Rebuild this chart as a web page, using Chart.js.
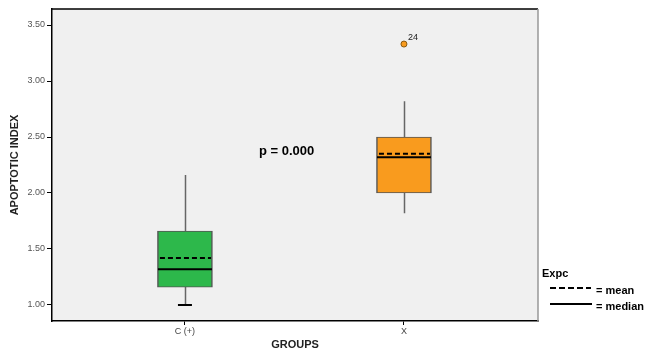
<!DOCTYPE html>
<html>
<head>
<meta charset="utf-8">
<script src="https://cdn.jsdelivr.net/npm/chart.js@4"></script>
<style>
  body { margin: 0; background: #fff; }
  #wrap { width: 645px; height: 352px; }
</style>
</head>
<body>
<div id="wrap"><canvas id="myCanvas" width="645" height="352"></canvas></div>
<script>
// values
const groups = ['C (+)', 'X']
const groupPos = [1, 2]
const q1 = [1.16, 2.00]
const q3 = [1.66, 2.50]
const medians = [1.32, 2.32]
const means = [1.42, 2.35]
const whiskerLow = [1.00, 1.82]
const whiskerHigh = [2.16, 2.82]
const boxColors = ['#2db84b', '#f99b1e']
const outlierGroup = [2]
const outlierValues = [3.33]
const outlierLabels = ['24']
const yTicks = [1.00, 1.50, 2.00, 2.50, 3.00, 3.50]
const pText = 'p = 0.000'

const boxPlugin = {
  id: 'boxParts',
  beforeDraw(chart) {
    const { ctx, chartArea: a } = chart
    ctx.save()
    ctx.fillStyle = '#f0f0f0'
    ctx.fillRect(a.left, a.top, a.right - a.left, a.bottom - a.top)
    ctx.restore()
  },
  beforeDatasetsDraw(chart) {
    const { ctx, scales: { x, y } } = chart
    ctx.save()
    ctx.strokeStyle = '#666'
    ctx.lineWidth = 1.5
    groupPos.forEach((g, i) => {
      const px = Math.round(x.getPixelForValue(g)) + 0.5
      ctx.beginPath()
      ctx.moveTo(px, y.getPixelForValue(q3[i]))
      ctx.lineTo(px, y.getPixelForValue(whiskerHigh[i]))
      ctx.moveTo(px, y.getPixelForValue(q1[i]))
      ctx.lineTo(px, y.getPixelForValue(whiskerLow[i]))
      ctx.stroke()
    })
    // cap on lower whisker of first group
    const cx = x.getPixelForValue(groupPos[0])
    const cy = y.getPixelForValue(whiskerLow[0])
    ctx.strokeStyle = '#000'
    ctx.lineWidth = 2
    ctx.beginPath()
    ctx.moveTo(cx - 7, cy)
    ctx.lineTo(cx + 7, cy)
    ctx.stroke()
    ctx.restore()
  },
  afterDatasetsDraw(chart) {
    const { ctx, chartArea: a, scales: { x, y } } = chart
    ctx.save()
    ctx.strokeStyle = '#000'
    ctx.lineWidth = 2
    groupPos.forEach((g, i) => {
      const px = x.getPixelForValue(g)
      ctx.setLineDash([])
      const my = y.getPixelForValue(medians[i])
      ctx.beginPath()
      ctx.moveTo(px - 27, my)
      ctx.lineTo(px + 27, my)
      ctx.stroke()
      ctx.setLineDash([5, 3])
      const ay = y.getPixelForValue(means[i])
      ctx.beginPath()
      ctx.moveTo(px - 25, ay)
      ctx.lineTo(px + 26, ay)
      ctx.stroke()
    })
    ctx.setLineDash([])

    // outlier labels
    ctx.fillStyle = '#222'
    ctx.font = '9px Arial'
    ctx.textAlign = 'left'
    ctx.textBaseline = 'bottom'
    outlierGroup.forEach((g, i) => {
      ctx.fillText(outlierLabels[i], x.getPixelForValue(g) + 4, y.getPixelForValue(outlierValues[i]) - 2)
    })

    // p value
    ctx.fillStyle = '#000'
    ctx.font = 'bold 13px "Liberation Sans Narrow", Arial'
    ctx.textBaseline = 'middle'
    ctx.fillText(pText, 259, 151)

    // frame
    ctx.lineWidth = 1.5
    ctx.strokeStyle = '#000'
    ctx.beginPath()
    ctx.moveTo(a.left, a.top)
    ctx.lineTo(a.right, a.top)
    ctx.stroke()
    ctx.strokeStyle = '#999'
    ctx.beginPath()
    ctx.moveTo(a.right, a.top)
    ctx.lineTo(a.right, a.bottom)
    ctx.stroke()

    // legend
    ctx.fillStyle = '#000'
    ctx.strokeStyle = '#000'
    ctx.font = 'bold 11px "Liberation Sans Narrow", Arial'
    ctx.fillText('Expc', 542, 274)
    ctx.fillText('= mean', 596, 291)
    ctx.fillText('= median', 596, 307)
    ctx.lineWidth = 2
    ctx.setLineDash([6, 3])
    ctx.beginPath()
    ctx.moveTo(550, 288)
    ctx.lineTo(591, 288)
    ctx.stroke()
    ctx.setLineDash([])
    ctx.beginPath()
    ctx.moveTo(550, 304)
    ctx.lineTo(592, 304)
    ctx.stroke()
    ctx.restore()
  }
}

const context = document.getElementById('myCanvas').getContext('2d')

new Chart(context, {
  type: 'bar',
  data: {
    datasets: [
      {
        type: 'bar',
        data: groupPos.map((g, i) => ({ x: g, y: [q1[i], q3[i]] })),
        backgroundColor: boxColors,
        borderColor: '#555',
        borderWidth: { left: 1.5, right: 1.5, top: 1, bottom: 1 },
        borderSkipped: false,
        barThickness: 55,
        order: 2
      },
      {
        type: 'scatter',
        data: outlierGroup.map((g, i) => ({ x: g, y: outlierValues[i] })),
        backgroundColor: '#f99b1e',
        borderColor: '#8a5a10',
        borderWidth: 1,
        pointRadius: 3,
        order: 1
      }
    ]
  },
  options: {
    responsive: false,
    animation: false,
    layout: { padding: { left: 0, top: 9, right: 107, bottom: 0 } },
    plugins: {
      legend: { display: false },
      tooltip: { enabled: false }
    },
    scales: {
      x: {
        type: 'linear',
        min: 0.393,
        max: 2.612,
        offset: false,
        afterBuildTicks: (s) => { s.ticks = groupPos.map(v => ({ value: v })) },
        afterFit: (s) => { s.height = 31 },
        grid: { drawOnChartArea: false, tickLength: 4, color: '#000', offset: false },
        border: { color: '#000', width: 1.5 },
        ticks: {
          color: '#444',
          font: { size: 9, family: 'Arial' },
          padding: 1,
          maxRotation: 0,
          callback: (v) => groups[groupPos.indexOf(v)] || ''
        },
        title: {
          display: true,
          text: 'GROUPS',
          color: '#222',
          font: { size: 11, weight: 'bold', family: 'Arial' },
          padding: { top: 0, bottom: 0 }
        }
      },
      y: {
        min: 0.857,
        max: 3.643,
        afterBuildTicks: (s) => { s.ticks = yTicks.map(v => ({ value: v })) },
        afterFit: (s) => { s.width = 52 },
        grid: { drawOnChartArea: false, tickLength: 5, color: '#000' },
        border: { color: '#000', width: 1.5 },
        ticks: {
          color: '#555',
          font: { size: 9, family: 'Arial' },
          padding: 2,
          callback: (v) => v.toFixed(2)
        },
        title: {
          display: true,
          text: 'APOPTOTIC INDEX',
          color: '#222',
          font: { size: 11, weight: 'bold', family: 'Arial' },
          padding: { top: 8, bottom: 0 }
        }
      }
    }
  },
  plugins: [boxPlugin]
})
</script>
</body>
</html>
